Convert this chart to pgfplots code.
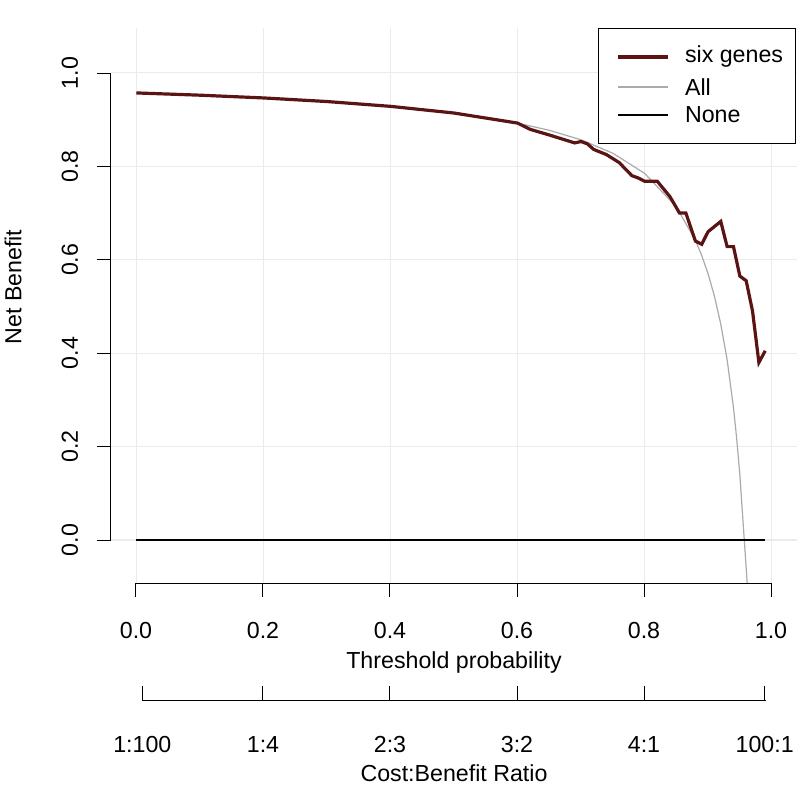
\documentclass[border=0pt]{standalone}
\usepackage{pgfplots}
\pgfplotsset{compat=1.18}
\usepackage{fontspec}
\setmainfont{Liberation Sans}
\definecolor{six}{HTML}{5A1414}
\definecolor{allc}{HTML}{AAAAAA}
\definecolor{gridc}{HTML}{EBEBEB}
\begin{document}
\begin{tikzpicture}[x=0.5pt,y=0.5pt,font=\fontsize{11.6}{14}\selectfont]
\path[use as bounding box] (-111,-206) rectangle (699,583);
\begin{axis}[at={(0,0)},anchor=south west,scale only axis,
  width=343pt,height=277.5pt,
  xmin=-0.04,xmax=1.04,ymin=-0.092,ymax=1.096,
  xtick={0,0.2,0.4,0.6,0.8,1},ytick={0,0.2,0.4,0.6,0.8,1},
  xticklabels={},yticklabels={},
  grid=major,grid style={gridc,line width=0.6pt},
  major tick style={draw=none},axis line style={draw=none},
  clip=true]
\addplot[allc,line width=0.6pt] coordinates {(0,0.957)(0.1,0.9522)(0.2,0.9463)(0.3,0.9386)(0.4,0.9283)(0.5,0.914)(0.6,0.8925)(0.65,0.877)(0.7,0.8567)(0.75,0.828)(0.8,0.785)(0.85,0.7133)(0.88,0.6417)(0.89,0.609)(0.9,0.57)(0.91,0.522)(0.92,0.462)(0.93,0.386)(0.94,0.283)(0.945,0.218)(0.95,0.14)(0.957,0)(0.962,-0.1)};
\addplot[black,line width=0.6pt] coordinates {(0,0)(0.99,0)};
\addplot[six,line width=1.6pt] coordinates {(0,0.957)(0.1,0.9522)(0.2,0.9463)(0.3,0.9386)(0.4,0.9283)(0.5,0.914)(0.6,0.8925)(0.62,0.879)(0.65,0.867)(0.69,0.85)(0.70,0.853)(0.71,0.848)(0.72,0.836)(0.74,0.825)(0.76,0.808)(0.78,0.78)(0.79,0.775)(0.80,0.768)(0.82,0.768)(0.84,0.735)(0.855,0.70)(0.865,0.70)(0.88,0.64)(0.89,0.633)(0.90,0.66)(0.92,0.682)(0.93,0.628)(0.94,0.628)(0.95,0.565)(0.96,0.555)(0.97,0.49)(0.98,0.38)(0.99,0.405)};
\end{axis}
% y axis
\draw[line width=0.5pt] (0,43)--(0,510);
\foreach \v/\l in {0/0.0,0.2/0.2,0.4/0.4,0.6/0.6,0.8/0.8,1/1.0}{
  \draw[line width=0.5pt] (0,43+467*\v)--(-14,43+467*\v);
  \node[rotate=90] at (-41,43+467*\v) {\l};}
\node[rotate=90] at (-98,296) {Net Benefit};
% x axis
\draw[line width=0.5pt] (25,0)--(660,0);
\foreach \v/\l in {0/0.0,0.2/0.2,0.4/0.4,0.6/0.6,0.8/0.8,1/1.0}{
  \draw[line width=0.5pt] (25+635*\v,0)--(25+635*\v,-14);
  \node at (25+635*\v,-48) {\l};}
\node at (343,-79) {Threshold probability};
% cost benefit axis
\draw[line width=0.5pt] (31,-117)--(655,-117);
\foreach \v/\l in {0.0099/1:100,0.2/1:4,0.4/2:3,0.6/3:2,0.8/4:1,0.99/100:1}{
  \draw[line width=0.5pt] (25+635*\v,-117)--(25+635*\v,-103);
  \node at (25+635*\v,-162) {\l};}
\node at (343,-190) {Cost:Benefit Ratio};
% legend
\draw[line width=0.5pt,fill=white] (487,555)--(684,555)--(684,440)--(487,440)--cycle;
\draw[six,line width=1.6pt] (507,526)--(557,526);
\node[anchor=west] at (567,526) {six genes};
\draw[allc,line width=0.6pt] (507,496)--(557,496);
\node[anchor=west] at (567,496) {All};
\draw[black,line width=0.6pt] (507,468)--(557,468);
\node[anchor=west] at (567,468) {None};
\end{tikzpicture}
\end{document}
